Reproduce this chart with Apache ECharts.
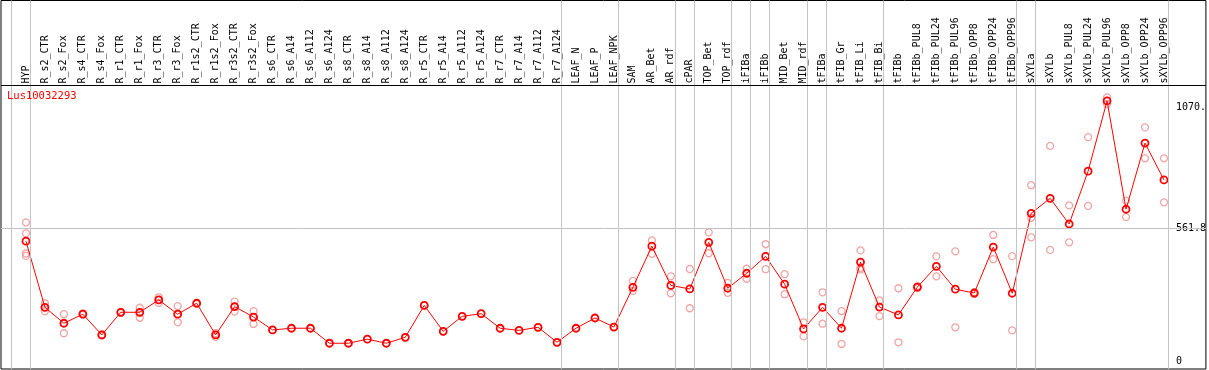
<!DOCTYPE html>
<html><head><meta charset="utf-8">
<script src="https://cdn.jsdelivr.net/npm/echarts@6/dist/echarts.min.js"></script>
<style>html,body{margin:0;padding:0;background:#fff}#c{width:1209px;height:370px}</style>
</head><body><div id="c"></div>
<script>
const title = "Lus10032293";
const categories = ["HYP","R_s2_CTR","R_s2_Fox","R_s4_CTR","R_s4_Fox","R_r1_CTR","R_r1_Fox","R_r3_CTR","R_r3_Fox","R_r1s2_CTR","R_r1s2_Fox","R_r3s2_CTR","R_r3s2_Fox","R_s6_CTR","R_s6_A14","R_s6_A112","R_s6_A124","R_s8_CTR","R_s8_A14","R_s8_A112","R_s8_A124","R_r5_CTR","R_r5_A14","R_r5_A112","R_r5_A124","R_r7_CTR","R_r7_A14","R_r7_A112","R_r7_A124","LEAF_N","LEAF_P","LEAF_NPK","SAM","AR_Bet","AR_rdf","cPAR","TOP_Bet","TOP_rdf","iFIBa","iFIBb","MID_Bet","MID_rdf","tFIBa","tFIB_Gr","tFIB_Li","tFIB_Bi","tFIBb","tFIBb_PUL8","tFIBb_PUL24","tFIBb_PUL96","tFIBb_OPP8","tFIBb_OPP24","tFIBb_OPP96","sXYLa","sXYLb","sXYLb_PUL8","sXYLb_PUL24","sXYLb_PUL96","sXYLb_OPP8","sXYLb_OPP24","sXYLb_OPP96"];
const meanValues = [507,229,162,200,113,208,208,260,200,246,113,232,188,134,141,141,78,78,95,78,103,237,128,191,202,141,132,145,82,141,184,146,313,486,321,306,502,309,372,443,326,138,229,141,419,230,197,314,401,305,289,482,288,624,687,579,801,1096,641,919,764];
const replicateValues = [[586,540,455,445],[246,229,212],[200,162,120],[203,198],[115,110],[210,206],[227,208,185],[271,260,248],[234,200,166],[248,244],[120,113,105],[253,232,211],[213,188,159],[134],[141],[141],[78],[78],[95],[78],[103],[237],[128],[191],[202],[141],[132],[145],[82],[141],[184],[146],[340,298],[510,454],[359,288],[390,225],[544,456],[332,290],[391,349],[494,389],[368,284],[166,107],[292,160],[213,75],[468,395,388],[258,192],[309,82],[318,310],[443,359],[464,145],[293,285],[533,431],[444,132],[742,605,523],[907,470],[657,502],[944,655],[1111,1083],[677,608],[985,855],[855,670]];
// index of last category in each group (separator drawn just after it)
const groupEnds = [-1,0,28,31,34,35,37,38,39,41,42,45,52,53,60];
const yTickValues = [0, 561.8, 1070];
const yTickLabels = ["0", "561.8", "1070."];
const headerLineValue = 1163;

const mainData = meanValues.map((v,i)=>[i,v]);
const repData = [];
replicateValues.forEach((arr,i)=>arr.forEach(v=>repData.push([i,v])));
const mono = "'DejaVu Sans Mono', monospace";

const chart = echarts.init(document.getElementById('c'));
chart.setOption({
  animation: false,
  title: {text: title, left: 7, top: 91, padding: 0,
    textStyle: {color: '#ff0000', fontSize: 10.5, fontWeight: 'normal', fontFamily: mono}},
  grid: {left: 1, right: 1, top: 0.5, bottom: 1, show: true, borderColor: '#000', borderWidth: 1, backgroundColor: 'transparent'},
  xAxis: {type: 'value', min: -25/19, max: 1182/19, position: 'top', offset: -85,
    axisLine: {show: false}, axisTick: {show: false}, splitLine: {show: false},
    axisLabel: {customValues: categories.map((c,i)=>i), formatter: v => categories[Math.round(v)],
      rotate: 90, margin: 2, color: '#000', fontSize: 10, fontFamily: mono}},
  yAxis: {type: 'value', min: (361.8-369)/0.238, max: (361.8-0.5)/0.238, position: 'right',
    axisLine: {show: false}, axisTick: {show: false}, splitLine: {show: false},
    axisLabel: {customValues: yTickValues, formatter: v => yTickLabels[yTickValues.indexOf(v)] || '',
      inside: true, align: 'left', margin: 30, color: '#000', fontSize: 10, fontFamily: mono}},
  series: [
    {type: 'scatter', data: repData, symbol: 'circle', symbolSize: 7, z: 2,
      itemStyle: {color: 'rgba(0,0,0,0)', borderColor: '#ee9090', borderWidth: 1.3},
      markLine: {silent: true, symbol: 'none', label: {show: false},
        data: groupEnds.map(g => ({xAxis: g + 4/19, lineStyle: {color: '#c4c4c4', width: 1, type: 'solid'}}))
          .concat([{yAxis: yTickValues[1], lineStyle: {color: '#c4c4c4', width: 1, type: 'solid'}},
                   {yAxis: headerLineValue, lineStyle: {color: '#000', width: 1, type: 'solid'}}])}},
    {type: 'line', data: mainData, symbol: 'circle', symbolSize: 7, showAllSymbol: true, z: 3,
      lineStyle: {color: '#ff0000', width: 1},
      itemStyle: {color: 'rgba(0,0,0,0)', borderColor: '#ff0000', borderWidth: 1.8}}
  ]
});
</script></body></html>
